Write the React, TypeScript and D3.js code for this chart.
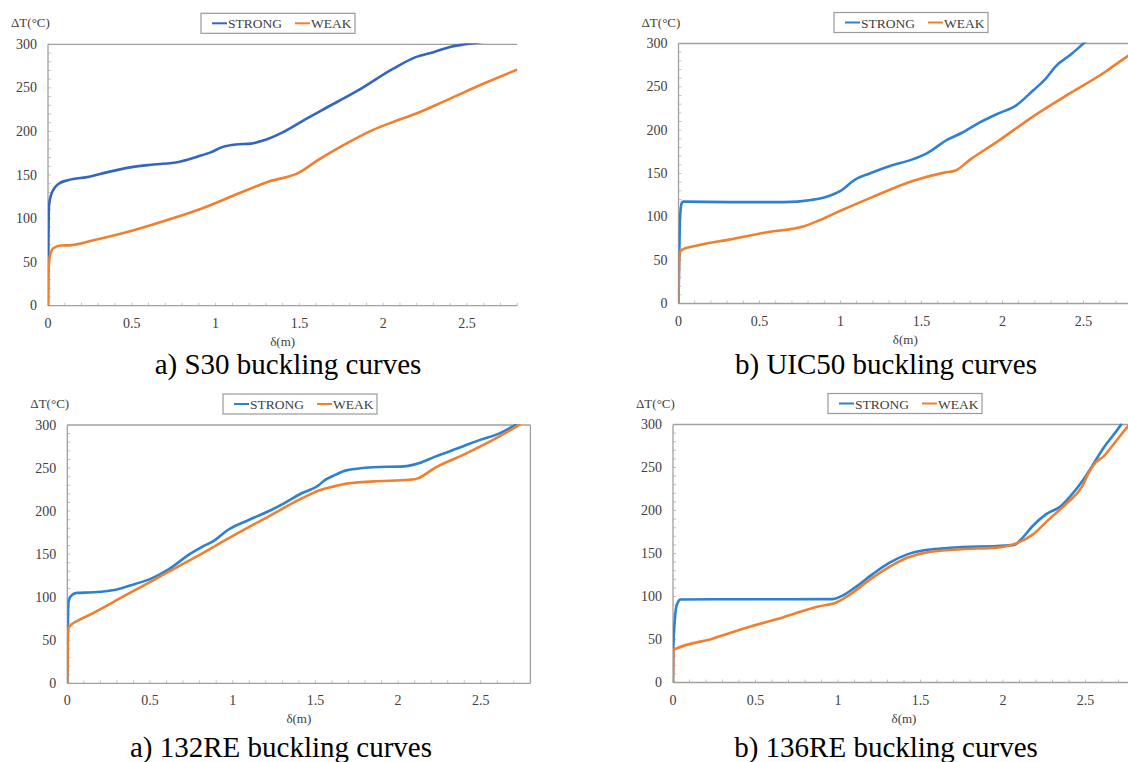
import React from 'react'
import * as d3 from 'd3'

// axis ticks shared by all four panels
const yTicks = [0, 50, 100, 150, 200, 250, 300]
const xTicks = [0, 0.5, 1, 1.5, 2, 2.5]
const seriesNames = ['STRONG', 'WEAK']

// a) S30  [δ (m), ΔT (°C)]
const s30Strong = [
  [0, 0], [0.002, 60], [0.006, 115], [0.02, 128], [0.064, 140], [0.118, 144], [0.246, 148],
  [0.35, 153], [0.5, 159], [0.63, 162], [0.78, 165], [0.89, 171], [0.97, 176], [1.04, 182],
  [1.12, 185], [1.21, 186], [1.29, 190], [1.4, 199], [1.51, 211], [1.63, 224], [1.85, 247],
  [2.06, 272], [2.19, 285], [2.3, 291], [2.4, 297], [2.49, 300], [2.6, 303],
]
const s30Weak = [
  [0, 0], [0.003, 40], [0.01, 56], [0.032, 66], [0.075, 69], [0.14, 69.5], [0.27, 75],
  [0.5, 86], [0.74, 100], [0.91, 111], [1.14, 129], [1.31, 142], [1.5, 153], [1.61, 167],
  [1.76, 184], [1.93, 201], [2.06, 211], [2.19, 220], [2.38, 236], [2.6, 255], [2.8, 271],
]

// b) UIC50
const uic50Strong = [
  [0, 0], [0.005, 60], [0.01, 100], [0.02, 116], [0.03, 117.5], [0.32, 117], [0.65, 117],
  [0.82, 119.5], [0.91, 123], [1.0, 130], [1.09, 143], [1.18, 150], [1.31, 159], [1.44, 166],
  [1.53, 173], [1.66, 189], [1.75, 197], [1.86, 209], [1.97, 219], [2.08, 228], [2.19, 246],
  [2.26, 258], [2.33, 274], [2.42, 287], [2.5, 300], [2.55, 308],
]
const uic50Weak = [
  [0, 0], [0.003, 45], [0.01, 60], [0.02, 62], [0.095, 66], [0.32, 74], [0.54, 82],
  [0.78, 89.5], [0.87, 96], [1.0, 107], [1.2, 123], [1.44, 141], [1.64, 151], [1.71, 153.5],
  [1.8, 166], [1.97, 187], [2.19, 216], [2.42, 243], [2.64, 268], [2.73, 280], [2.8, 289],
]

// a) 132RE
const re132Strong = [
  [0, 0], [0.003, 62], [0.008, 95], [0.02, 101], [0.058, 105], [0.155, 105.7], [0.3, 109],
  [0.41, 115.4], [0.5, 121], [0.61, 132], [0.74, 150], [0.82, 159], [0.89, 166], [0.97, 178],
  [1.1, 190], [1.23, 201], [1.31, 209], [1.42, 221], [1.52, 230], [1.55, 235], [1.62, 242],
  [1.68, 247], [1.85, 251], [2.03, 252], [2.13, 256], [2.22, 263], [2.39, 275], [2.5, 283],
  [2.61, 290], [2.69, 298], [2.72, 301],
]
const re132Weak = [
  [0, 0], [0.003, 40], [0.005, 60], [0.009, 65], [0.07, 73.5], [0.13, 79], [0.35, 102],
  [0.56, 124], [0.78, 147], [0.99, 170], [1.21, 193], [1.42, 215], [1.53, 224.5], [1.62, 229],
  [1.66, 231], [1.85, 234.5], [2.07, 236.5], [2.12, 238], [2.22, 250], [2.39, 265], [2.61, 286.5],
  [2.74, 301],
]

// b) 136RE
const re136Strong = [
  [0, 0], [0.002, 40], [0.01, 70], [0.02, 88], [0.035, 95], [0.043, 96.5], [0.24, 96.8],
  [0.67, 96.8], [0.97, 97], [1.03, 101.4], [1.1, 110], [1.21, 126], [1.31, 139], [1.42, 149],
  [1.53, 154], [1.64, 156], [1.75, 157.6], [1.96, 158.7], [2.07, 160], [2.11, 166.5],
  [2.18, 182], [2.26, 195.5], [2.35, 205], [2.41, 217], [2.48, 234], [2.54, 251.6],
  [2.61, 273], [2.67, 288], [2.72, 301],
]
const re136Weak = [
  [0, 0], [0.002, 30], [0.005, 38], [0.01, 38.5], [0.24, 51], [0.45, 64], [0.67, 76],
  [0.88, 88.5], [0.99, 93], [1.06, 100.7], [1.21, 122], [1.42, 145], [1.53, 151], [1.75, 155],
  [1.96, 156.8], [2.09, 162.6], [2.18, 172], [2.28, 190], [2.39, 209], [2.48, 228],
  [2.52, 244], [2.56, 255.5], [2.61, 263], [2.67, 277], [2.74, 294], [2.77, 301],
]

const captions = [
  'a) S30 buckling curves',
  'b) UIC50 buckling curves',
  'a) 132RE buckling curves',
  'b) 136RE buckling curves',
]

const ORANGE = '#f08030'
const FONT = '"Liberation Serif", "Times New Roman", serif'
const AXIS = '#a0a0a0'
const TEXT = '#404040'

function Panel(props) {
  const { id, left, top, bottom, unit, strong, weak, blue, rightBorder, legendCx } = props
  const xMax = 2.8
  const right = left + unit * xMax
  const x = d3.scaleLinear().domain([0, xMax]).range([left, right])
  const y = d3.scaleLinear().domain([0, 300]).range([bottom, top])
  const line = d3.line<number[]>()
    .x(d => x(d[0]))
    .y(d => y(d[1]))
    .curve(d3.curveMonotoneX)
  const cx = (left + right) / 2
  const lx = legendCx ?? cx
  const lw = 154
  const ly = top - 31

  return (
    <g fontFamily={FONT}>
      <defs>
        <clipPath id={'clip' + id}>
          <rect x={left} y={top - 1} width={right - left} height={bottom - top + 1} />
        </clipPath>
      </defs>

      {/* minor ticks */}
      {d3.range(0, 28.5, 1).map(i => (
        <line key={'mx' + i} x1={x(i / 10)} x2={x(i / 10)} y1={bottom} y2={bottom - 3} stroke="#c4c4c4" />
      ))}
      {d3.range(0, 31, 1).map(i => (
        <line key={'my' + i} x1={left} x2={left + 3} y1={y(i * 10)} y2={y(i * 10)} stroke="#c4c4c4" />
      ))}

      {/* plot frame */}
      <line x1={left} x2={right} y1={top} y2={top} stroke={AXIS} strokeWidth={1.3} />
      <line x1={left} x2={right} y1={bottom} y2={bottom} stroke={AXIS} strokeWidth={1.3} />
      <line x1={left} x2={left} y1={top} y2={bottom} stroke={AXIS} strokeWidth={1.3} />
      {rightBorder && <line x1={right} x2={right} y1={top} y2={bottom} stroke={AXIS} strokeWidth={1.3} />}

      {yTicks.map(t => (
        <text key={'yt' + t} x={left - 11} y={y(t) + 4.5} textAnchor="end" fontSize={14} fill={TEXT}>{t}</text>
      ))}
      {xTicks.map(t => (
        <text key={'xt' + t} x={x(t)} y={bottom + 22} textAnchor="middle" fontSize={14} fill={TEXT}>{t}</text>
      ))}
      <text x={left - 37} y={top - 17} fontSize={13} fill={TEXT}>ΔT(°C)</text>
      <text x={cx} y={bottom + 40} textAnchor="middle" fontSize={13} fill={TEXT}>δ(m)</text>

      <g clipPath={`url(#clip${id})`}>
        <path d={line(strong) ?? ''} fill="none" stroke={blue} strokeWidth={2.6} strokeLinejoin="round" />
        <path d={line(weak) ?? ''} fill="none" stroke={ORANGE} strokeWidth={2.6} strokeLinejoin="round" />
      </g>

      {/* legend */}
      <rect x={lx - lw / 2} y={ly} width={lw} height={20} fill="#fff" stroke="#9a9a9a" strokeWidth={1.2} />
      <line x1={lx - lw / 2 + 11} x2={lx - lw / 2 + 26} y1={ly + 10} y2={ly + 10} stroke={blue} strokeWidth={2} />
      <text x={lx - lw / 2 + 27} y={ly + 15} fontSize={13.5} fill={TEXT}>{seriesNames[0]}</text>
      <text x={lx - lw / 2 + 110} y={ly + 15} fontSize={13.5} fill={TEXT}>{seriesNames[1]}</text>
      <line x1={lx - lw / 2 + 94} x2={lx - lw / 2 + 109} y1={ly + 10} y2={ly + 10} stroke={ORANGE} strokeWidth={2} />
    </g>
  )
}

export default function App() {
  return (
    <svg
      width={1128}
      height={762}
      style={{ position: 'absolute', left: 0, top: 0, background: '#fff' }}
    >
      <Panel id="a" left={48} top={44.3} bottom={305.7} unit={167.6} strong={s30Strong} weak={s30Weak}
        blue="#3466c0" rightBorder={false} legendCx={278} />
      <Panel id="b" left={678.5} top={43.5} bottom={303.5} unit={162} strong={uic50Strong} weak={uic50Weak}
        blue="#2f80d0" rightBorder={false} legendCx={911} />
      <Panel id="c" left={67.3} top={425} bottom={683.3} unit={165.4} strong={re132Strong} weak={re132Weak}
        blue="#2f80d0" rightBorder={true} legendCx={300} />
      <Panel id="d" left={673} top={424.5} bottom={682.5} unit={165} strong={re136Strong} weak={re136Weak}
        blue="#2f80d0" rightBorder={false} legendCx={905} />

      <g fontFamily={FONT} fontSize={29} fill="#000" textAnchor="middle">
        <text x={288} y={374}>{captions[0]}</text>
        <text x={886} y={374}>{captions[1]}</text>
        <text x={281} y={757}>{captions[2]}</text>
        <text x={886} y={757}>{captions[3]}</text>
      </g>
    </svg>
  )
}
